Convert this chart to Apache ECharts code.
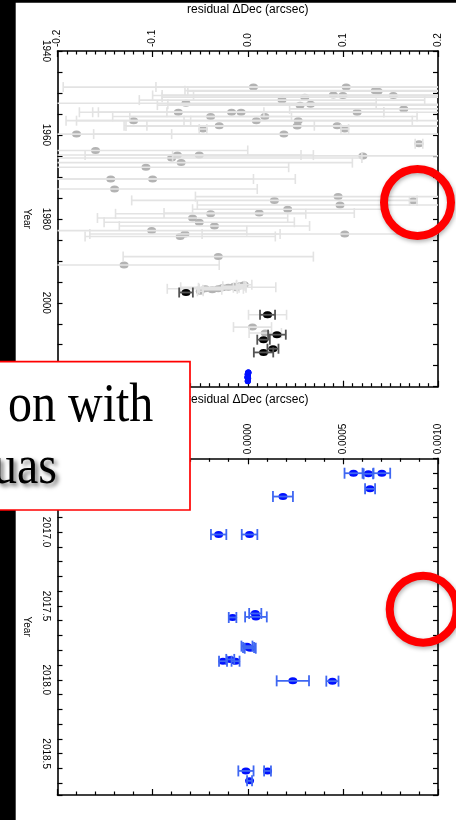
<!DOCTYPE html>
<html><head><meta charset="utf-8">
<script src="https://cdn.jsdelivr.net/npm/echarts@6/dist/echarts.min.js"></script>
<style>html,body{margin:0;padding:0;background:#fff}#c{width:456px;height:820px}</style>
</head><body><div id="c"></div>
<script>
// ---- data ----
const grayYear = [1948.6,1948.6,1949.45,1949.6,1950.5,1950.6,1950.6,1951.7,1951.0,1952.45,1952.9,1952.7,1953.8,1954.6,1954.6,1954.6,1954.6,1955.6,1955.6,1956.6,1956.6,1956.6,1957.9,1957.8,1958.6,1957.8,1958.6,1959.8,1959.8,1962.1,1963.7,1964.8,1964.8,1965.5,1965.0,1966.6,1967.7,1970.5,1970.5,1972.9,1974.7,1975.6,1975.7,1976.7,1977.7,1978.8,1978.6,1979.8,1980.8,1981.7,1982.8,1984.2,1983.6,1983.6,1989.0,1991.0,
  1997.26,1996.67,1996.9,1996.67,1996.43,1996.3,1996.07,1995.95,1995.7,1996.43,2002.86,2005.8,2007.2];
const grayDec = [0.006,0.1035,0.134,0.137,0.090,0.100,0.153,0.036,0.060,-0.065,0.055,0.066,0.164,-0.073,-0.017,-0.007,0.115,-0.039,0.018,-0.120,0.009,0.053,0.052,-0.030,-0.047,0.094,0.102,-0.180,0.038,0.180,-0.160,-0.074,-0.051,-0.080,0.121,-0.070,-0.107,-0.144,-0.100,-0.140,0.095,0.028,0.174,0.097,0.042,-0.039,0.012,-0.058,-0.051,-0.035,-0.101,-0.071,-0.066,0.102,-0.031,-0.130,
  -0.0499,-0.0446,-0.0373,-0.031,-0.0268,-0.0205,-0.0142,-0.0079,-0.0037,-0.0121,0.0208,0.005,0.0184];
const grayErr = [0.2,0.2,0.2,0.2,0.18,0.2,0.21,0.15,0.15,0.2,0.15,0.15,0.12,0.09,0.16,0.15,0.2,0.085,0.16,0.06,0.2,0.12,0.18,0.1,0.004,0.2,0.004,0.1,0.2,0.004,0.16,0.13,0.12,0.2,0.2,0.18,0.15,0.15,0.15,0.15,0.15,0.15,0.004,0.15,0.1,0.1,0.1,0.1,0.1,0.1,0.1,0.1,0.1,0.15,0.1,0.1,
  0.003,0.04,0.01,0.02,0.025,0.05,0.012,0.004,0.008,0.003,0.02,0.02,0.017];

const blackYear = [1997.55,2002.86,2007.6,2008.8,2010.95,2011.83];
const blackDec = [-0.0649,0.0208,0.0307,0.0166,0.0265,0.0166];
const blackErr = [0.0072,0.0079,0.0093,0.0066,0.0058,0.0102];

const blueYear = [2016.601,2016.605,2016.601,2016.707,2016.759,2017.016,2017.016,2017.578,2017.551,2017.574,2017.772,2017.786,2017.781,2017.874,2017.862,2017.874,2018.007,2018.009,2018.617,2018.617,2018.684];
const blueDec = [0.000556,0.000634,0.000705,0.000643,0.000185,-0.000153,0.0000095,-0.0000798,0.0000394,0.0000431,-0.0000042,0.0000131,0.0000042,-0.00013,-0.0000919,-0.0000641,0.000237,0.000445,-0.0000095,0.000104,0.0000095];
const blueErr = [0.0000473,0.0000247,0.0000438,0.0000263,0.0000525,0.0000404,0.000041,0.00002,0.000032,0.000057,0.000029,0.000029,0.000029,0.000021,0.000021,0.000021,0.000085,0.000032,0.00004,0.000018,0.000013];

const xTitle = 'residual \u0394Dec (arcsec)';
const yTitle = 'Year';
const boxLine1 = 'on with';
const boxLine2 = 'uas';

// ---- build ----
const pts = (xs, ys) => xs.map((x,i)=>[x, ys[i]]);
const errs = (xs, ys, es) => xs.map((x,i)=>[x, ys[i], es[i]]);
const FONT = 'Liberation Sans';

function errRender(color, lw, cap){
  return function(params, api){
    const x = api.value(0), y = api.value(1), e = api.value(2);
    const p0 = api.coord([x-e, y]), p1 = api.coord([x+e, y]);
    const cs = params.coordSys;
    const L = cs.x, R = cs.x + cs.width;
    const a = Math.max(p0[0], L), b = Math.min(p1[0], R);
    const st = {stroke: color, lineWidth: lw};
    const ch = [];
    if (b > a) ch.push({type:'line', shape:{x1:a,y1:p0[1],x2:b,y2:p0[1]}, style:st});
    if (p0[0] >= L-0.5) ch.push({type:'line', shape:{x1:p0[0],y1:p0[1]-cap,x2:p0[0],y2:p0[1]+cap}, style:st});
    if (p1[0] <= R+0.5) ch.push({type:'line', shape:{x1:p1[0],y1:p1[1]-cap,x2:p1[0],y2:p1[1]+cap}, style:st});
    return {type:'group', children: ch};
  };
}

const axLine = {show:true, onZero:false, lineStyle:{color:'#000', width:1.6}};
const tickSt = {color:'#000', width:1.2};

function xAx(grid, min, max, interval, split, dec, withLabel, pos, gap){
  return {
    type:'value', gridIndex:grid, position:pos, min, max, interval,
    axisLine: axLine,
    axisTick:{show:true, inside:true, length:6, lineStyle:tickSt},
    minorTick:{show:true, splitNumber:split, length:3.5, lineStyle:tickSt},
    splitLine:{show:false}, minorSplitLine:{show:false},
    axisLabel:{show:withLabel, rotate:-90, margin:4, fontFamily:FONT, fontSize:10, color:'#000',
      formatter: v => (Math.abs(v)<1e-12 ? 0 : v).toFixed(dec)},
    name: withLabel ? xTitle : '', nameLocation:'middle', nameGap:gap,
    nameTextStyle:{fontFamily:FONT, fontSize:12, color:'#000'}
  };
}
function yAx(grid, min, max, interval, withLabel, pos, labFmt){
  return {
    type:'value', gridIndex:grid, position:pos, inverse:true, min, max, interval,
    axisLine: axLine,
    axisTick:{show:true, inside:true, length:5, lineStyle:tickSt},
    splitLine:{show:false},
    axisLabel:{show:withLabel, rotate:-90, margin:7, fontFamily:FONT, fontSize:10, color:'#000', formatter:labFmt},
    name: withLabel ? yTitle : '', nameLocation:'middle', nameGap:25.5, nameRotate:-90,
    nameTextStyle:{fontFamily:FONT, fontSize:10, color:'#000'}
  };
}

const topYearFmt = v => (Math.round(v) % 20 === 0 ? String(Math.round(v)) : '');
const botYearFmt = v => { const t = Math.round(v*10); return t % 5 === 0 ? (t/10).toFixed(1) : ''; };

const GRAY_DOT = '#b3b3b3', GRAY_BAR = '#e3e3e3', BLACK_BAR = '#545454', BLUE_DOT = '#0010ff', BLUE_BAR = '#3f67f2';

function scat(xi, yi, data, color, size, z){
  return {type:'scatter', xAxisIndex:xi, yAxisIndex:yi, data, symbol:'circle', symbolSize:size,
    itemStyle:{color, opacity:1}, z, silent:true, animation:false};
}
function ebar(xi, yi, data, color, lw, cap, z){
  return {type:'custom', xAxisIndex:xi, yAxisIndex:yi, data, renderItem: errRender(color, lw, cap), z, silent:true, animation:false};
}

const option = {
  animation:false,
  grid:[
    {left:57.5, top:51, width:380.5, height:335.7},
    {left:57.5, top:458.3, width:380.5, height:336.7}
  ],
  xAxis:[
    xAx(0, -0.2, 0.2, 0.1, 10, 1, true, 'top', 35),
    xAx(0, -0.2, 0.2, 0.1, 10, 1, false, 'bottom', 0),
    xAx(1, -0.001, 0.001, 0.0005, 5, 4, true, 'top', 52.6),
    xAx(1, -0.001, 0.001, 0.0005, 5, 4, false, 'bottom', 0)
  ],
  yAxis:[
    yAx(0, 1940, 2020, 5, true, 'left', topYearFmt),
    yAx(0, 1940, 2020, 5, false, 'right', topYearFmt),
    yAx(1, 2016.5, 2018.78, 0.1, true, 'left', botYearFmt),
    yAx(1, 2016.5, 2018.78, 0.1, false, 'right', botYearFmt)
  ],
  series:[
    scat(0,0, pts(grayDec, grayYear), GRAY_DOT, [9,7], 2),
    ebar(0,0, errs(grayDec, grayYear, grayErr), GRAY_BAR, 1.6, 5, 3),
    scat(0,0, pts(blackDec, blackYear), '#000', [9,7], 4),
    ebar(0,0, errs(blackDec, blackYear, blackErr), BLACK_BAR, 1.8, 5, 5),
    scat(0,0, pts(blueDec, blueYear), BLUE_DOT, [6,6], 6),
    scat(2,2, pts(blueDec, blueYear), BLUE_DOT, [9,7], 6),
    ebar(2,2, errs(blueDec, blueYear, blueErr), BLUE_BAR, 1.8, 5.5, 7)
  ],
  graphic:[
    {type:'rect', left:0, top:0, shape:{x:0,y:0,width:15.7,height:820}, style:{fill:'#000'}, z:100},
    {type:'rect', shape:{x:0,y:0,width:456,height:2.7}, style:{fill:'#000'}, z:100},
    {type:'circle', shape:{cx:417.5, cy:202.5, r:33.5}, style:{fill:'none', stroke:'#ff0000', lineWidth:8, shadowBlur:4, shadowColor:'rgba(0,0,0,0.3)', shadowOffsetX:1, shadowOffsetY:2}, z:100},
    {type:'circle', shape:{cx:423.2, cy:609.2, r:33.5}, style:{fill:'none', stroke:'#ff0000', lineWidth:8, shadowBlur:4, shadowColor:'rgba(0,0,0,0.3)', shadowOffsetX:1, shadowOffsetY:2}, z:100},
    {type:'rect', shape:{x:-10, y:361.7, width:200, height:148.3}, style:{fill:'#fff', stroke:'#ff0000', lineWidth:1.7}, z:101},
    {type:'text', x:153.3, y:434, scaleY:1.15, style:{text:boxLine1, x:0, y:0, textAlign:'right', textVerticalAlign:'bottom', font:'48px "Liberation Serif"', fill:'#000'}, z:102},
    {type:'text', x:57, y:496, scaleY:1.15, style:{text:boxLine2, x:0, y:0, textAlign:'right', textVerticalAlign:'bottom', font:'48px "Liberation Serif"', fill:'#000', textShadowColor:'rgba(0,0,0,0.55)', textShadowBlur:4, textShadowOffsetX:3, textShadowOffsetY:3}, z:102}
  ]
};
const chart = echarts.init(document.getElementById('c'), null, {renderer:'canvas'});
chart.setOption(option);
</script></body></html>
